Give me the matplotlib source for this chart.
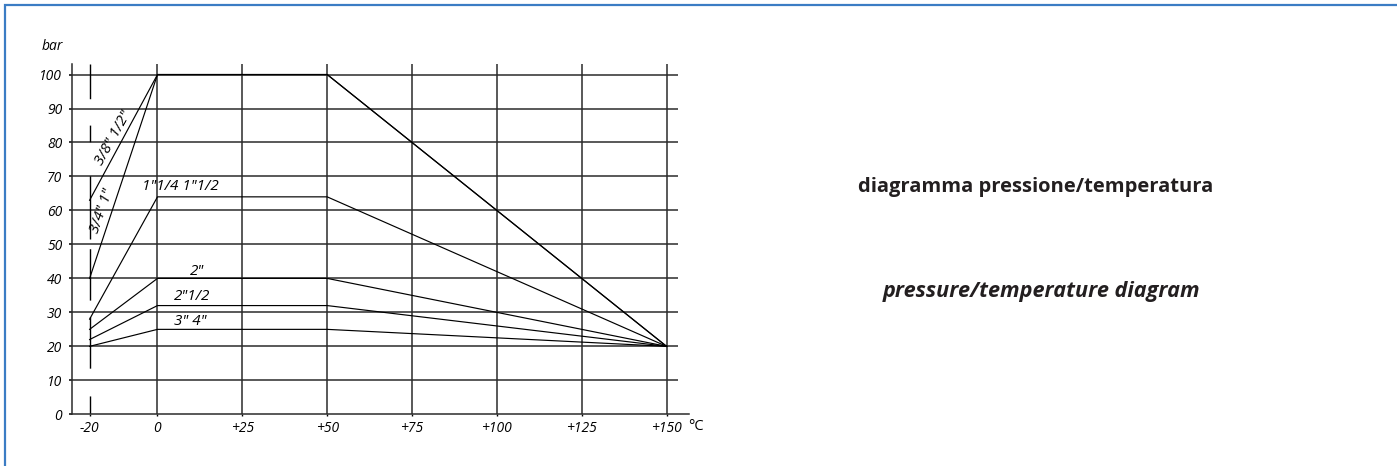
import matplotlib.pyplot as plt
from matplotlib.transforms import blended_transform_factory

plt.rcParams['font.family'] = ['Open Sans', 'DejaVu Sans']

# pressure (bar) at each temperature break point, per thread size
temps = [-20, 0, 50, 150]
p_38_12 = [63, 100, 100, 20]
p_34_1 = [40, 100, 100, 20]
p_114_112 = [28, 64, 64, 20]
p_2 = [25, 40, 40, 20]
p_212 = [22, 32, 32, 20]
p_3_4 = [20, 25, 25, 20]
series = [p_38_12, p_34_1, p_114_112, p_2, p_212, p_3_4]

x_ticks = [-20, 0, 25, 50, 75, 100, 125, 150]
x_labels = ['-20', '0', '+25', '+50', '+75', '+100', '+125', '+150']
y_ticks = [0, 10, 20, 30, 40, 50, 60, 70, 80, 90, 100]

# label text, position (x, y) in data units, rotation
size_labels = ['3/8" 1/2"', '3/4" 1"', '1"1/4 1"1/2', '2"', '2"1/2', '3" 4"']
label_x = [-12.9, -16.3, 6.6, 11.7, 10.2, 9.7]
label_y = [81.2, 59.9, 67.0, 42.0, 34.6, 27.3]
label_rot = [61, 71, 0, 0, 0, 0]

W, H = 1397, 466
fig = plt.figure(figsize=(W / 100, H / 100), dpi=100)
ax = fig.add_axes([72.3 / W, 1 - 414.3 / H, 617 / W, 350.3 / H])
ax.set_xlim(-25.1, 156.7)
ax.set_ylim(0, 103.1)

grid_col = '#2b2b2b'
ax.hlines(y_ticks[1:], -25.1, 153.5, color=grid_col, lw=1.1)
ax.vlines(x_ticks[1:], 0, 103.1, color=grid_col, lw=1.1)
# dashed reference line at -20 degC, drawn top-down so the pattern starts at the top
ax.plot([-20, -20], [103.1, 0], color='black', lw=1.0,
        dashes=(25, 19, 12, 24.5, 45.5, 7, 37, 12, 37, 20, 14, 0))

for s in series:
    ax.plot(temps, s, color='black', lw=0.85)

for txt, lx, ly, rot in zip(size_labels, label_x, label_y, label_rot):
    ax.text(lx, ly, txt, ha='center', va='center', rotation=rot,
            style='italic', fontsize=11)

for side in ['top', 'right']:
    ax.spines[side].set_visible(False)
for side in ['left', 'bottom']:
    ax.spines[side].set_linewidth(1.1)
    ax.spines[side].set_color(grid_col)

ax.set_xticks(x_ticks)
ax.set_xticklabels(x_labels, style='italic', fontsize=10)
ax.set_yticks(y_ticks)
ax.set_yticklabels([str(v) for v in y_ticks], style='italic', fontsize=10)
ax.tick_params(axis='x', direction='out', length=1.5, width=1.0, pad=3)
ax.tick_params(axis='y', direction='out', length=2.2, width=1.1, pad=5)

trans = blended_transform_factory(ax.transData, ax.transAxes)
ax.text(158.6, -0.036, '°C', transform=trans, ha='center', va='center',
        fontsize=10.5, clip_on=False)
fig.text(63 / W, 1 - 46 / H, 'bar', ha='right', va='center', style='italic',
         fontsize=10)

fig.text(1036 / W, 1 - 191.7 / H, 'diagramma pressione/temperatura',
         ha='center', va='baseline', fontweight='bold', fontsize=14.5,
         color='#231f20')
fig.text(1042 / W, 1 - 296.7 / H, 'pressure/temperature diagram',
         ha='center', va='baseline', fontweight='bold', style='italic',
         fontsize=15.6, color='#231f20')

# blue frame on the left and top edges (right and bottom run off the canvas)
frame = plt.Rectangle((5 / W, -0.05), 1 - 5 / W + 0.05, 1 - 5 / H + 0.05,
                      transform=fig.transFigure, fill=False,
                      edgecolor='#3b7cc4', lw=1.6)
fig.add_artist(frame)

fig.savefig('out.png', dpi=100)
